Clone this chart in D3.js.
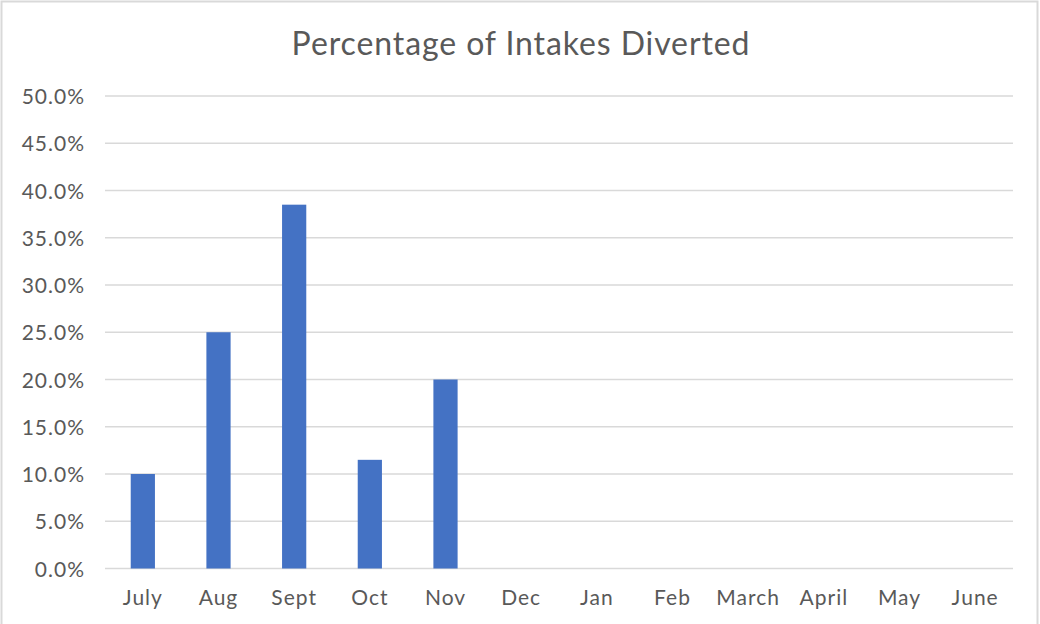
<!DOCTYPE html>
<html><head><meta charset="utf-8">
<script src="https://cdn.jsdelivr.net/npm/d3@7"></script>
<style>body{margin:0;background:#fff}svg{display:block}</style>
</head><body><svg id="c" width="1040" height="624"></svg>
<script>
const categories = ["July","Aug","Sept","Oct","Nov","Dec","Jan","Feb","March","April","May","June"];
const values = [0.10,0.25,0.385,0.115,0.20,null,null,null,null,null,null,null];
const yTicks = [0,0.05,0.10,0.15,0.20,0.25,0.30,0.35,0.40,0.45,0.50];
const title = "Percentage of Intakes Diverted";

const svg = d3.select("#c");
const font = "Lato, 'Open Sans', sans-serif";
svg.append("rect").attr("x",1.5).attr("y",1.5).attr("width",1036).attr("height",640)
  .attr("fill","#fff").attr("stroke","#d9d9d9").attr("stroke-width",2);

const x = d3.scaleBand().domain(categories).range([105,1013]).paddingInner(0.68).paddingOuter(0.34);
const y = d3.scaleLinear().domain([0,0.5]).range([568.5,96]);

const g = svg.append("g");
g.selectAll("line.grid").data(yTicks).join("line")
  .attr("x1",105).attr("x2",1013).attr("y1",d=>y(d)).attr("y2",d=>y(d))
  .attr("stroke","#d9d9d9").attr("stroke-width",1.5);

g.selectAll("rect.bar").data(categories.map((c,i)=>({c,v:values[i]})).filter(d=>d.v!=null)).join("rect")
  .attr("x",d=>x(d.c)).attr("width",x.bandwidth())
  .attr("y",d=>y(d.v)).attr("height",d=>y(0)-y(d.v)).attr("fill","#4472C4");

const ya = d3.axisLeft(y).tickValues(yTicks).tickFormat(d3.format(".1%")).tickSize(0).tickPadding(0);
const yg = svg.append("g").attr("transform","translate(85,0)").call(ya);
yg.select(".domain").remove();
yg.selectAll("text").attr("font-family",font).attr("font-size",21).attr("letter-spacing",1)
  .attr("fill","#595959").attr("dy","0.36em");

const xa = d3.axisBottom(x).tickSize(0).tickPadding(0);
const xg = svg.append("g").attr("transform","translate(0,605)").call(xa);
xg.select(".domain").remove();
xg.selectAll("text").attr("font-family",font).attr("font-size",21).attr("letter-spacing",1)
  .attr("fill","#595959").attr("dy","0");

svg.append("text").attr("x",521).attr("y",55).attr("text-anchor","middle")
  .attr("font-family",font).attr("font-size",32).attr("letter-spacing",0.9).attr("fill","#595959").text(title);
</script></body></html>
